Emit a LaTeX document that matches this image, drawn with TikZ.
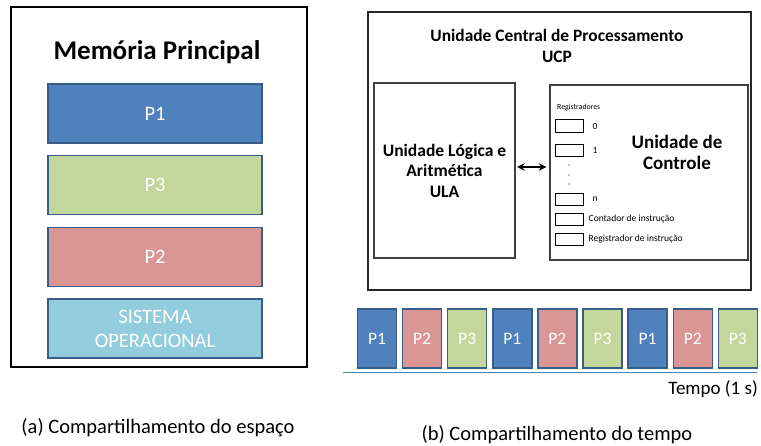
\documentclass[tikz,border=0pt]{standalone}
\usepackage{fontspec}
\setmainfont{Carlito}
\usepackage{xcolor}
\usetikzlibrary{positioning,arrows.meta}

\definecolor{pblue}{HTML}{4F81BD}
\definecolor{pred}{HTML}{D99694}
\definecolor{pgreen}{HTML}{C3D69B}
\definecolor{paqua}{HTML}{93CDDD}
\definecolor{pedge}{HTML}{385D8A}

\newcommand{\fsz}[1]{\fontsize{#1}{#1}\selectfont}

\begin{document}
\begin{tikzpicture}[
    x=1pt, y=-1pt,
    frame/.style={rectangle, draw=black, line width=1.6pt, inner sep=0pt},
    unit/.style={rectangle, draw=black!75, line width=1.3pt, inner sep=0pt, align=center},
    memblock/.style={rectangle, draw=pedge, line width=1.4pt, minimum width=214pt, minimum height=59pt, inner sep=0pt, text=white, align=center, font=\fsz{20.5}},
    slot/.style={rectangle, draw=pedge, line width=1.4pt, minimum width=39pt, minimum height=59pt, inner sep=0pt, text=white, font=\fsz{17.5}},
    reg/.style={rectangle, draw=black, line width=1pt, minimum width=28pt, minimum height=12.5pt, inner sep=0pt},
    reglabel/.style={anchor=west, font=\fsz{9.5}, inner sep=0pt},
    caption/.style={font=\fsz{20.5}},
    arrow/.style={{Stealth[length=7.5pt,width=7.5pt]}-{Stealth[length=7.5pt,width=7.5pt]}, line width=1.8pt, shorten <=1.5pt, shorten >=3pt}
]
\useasboundingbox (0,0) rectangle (761,446);

% === (a) MEMORIA PRINCIPAL ===
\node[frame, minimum width=296pt, minimum height=360pt] (mem) at (159,187) {};
\node[font=\fsz{27}\bfseries] (memtitle) at (157,52) {Memória Principal};
\node[memblock, fill=pblue] (m1) at (155,113.5) {P1};
\node[memblock, fill=pgreen, below=11pt of m1] (m3) {P3};
\node[memblock, fill=pred, below=12pt of m3] (m2) {P2};
\node[memblock, fill=paqua, below=11pt of m2] (mso) {SISTEMA\\[3pt]OPERACIONAL};
\node[caption] (capa) at (158,428) {(a) Compartilhamento do espaço};

% === (b) UCP ===
\node[frame, draw=black!85, line width=1.3pt, minimum width=383pt, minimum height=278pt] (ucp) at (559.5,151) {};
\node[font=\fsz{17.4}\bfseries, align=center] (ucptitle) at (557,46) {Unidade Central de Processamento\\[4.5pt]UCP};
\node[unit, minimum width=141pt, minimum height=175pt, font=\fsz{17.5}\bfseries] (ula) at (444.5,170.5) {Unidade Lógica e\\[3pt]Aritmética\\[3pt]ULA};
\node[unit, minimum width=198pt, minimum height=175pt] (uc) at (649,172.5) {};
\node[font=\fsz{19}\bfseries, align=center] (uctext) at (677,152.5) {Unidade de\\[2pt]Controle};

% registers
\node[reglabel, font=\fsz{7.8}] (regtitle) at (557,107) {Registradores};
\node[reg] (r0) at (569,126) {};
\node[reg] (r1) at (569,150.5) {};
\node[reg] (rn) at (569,199.5) {};
\node[reg] (rpc) at (569,219.5) {};
\node[reg] (rir) at (569,239.5) {};
\node[reglabel, right=9pt of r0] (l0) {0};
\node[reglabel, right=9pt of r1] (l1) {1};
\node[reglabel, right=9pt of rn] (ln) {n};
\node[reglabel, right=5pt of rpc] (lpc) {Contador de instrução};
\node[reglabel, right=5pt of rir] (lir) {Registrador de instrução};
\foreach \y in {165,175,184}
    \fill (569,\y) circle (0.6pt);

% ULA <-> UC
\draw[arrow] ([yshift=3.5pt]ula.east) -- ([yshift=3.5pt]ula.east -| uc.west);

% === (b) TIMELINE ===
\foreach \p/\c [count=\i from 0] in {P1/pblue, P2/pred, P3/pgreen, P1/pblue, P2/pred, P3/pgreen, P1/pblue, P2/pred, P3/pgreen}
    \node[slot, fill=\c] (t\i) at (377+45.1*\i,338.5) {\p};
\coordinate (axstart) at (343,373);
\coordinate (axend) at (757,373);
\draw[pblue, line width=1pt] (axstart) -- (axend);
\node[anchor=east, font=\fsz{19}, inner sep=0pt] (tempo) at (758,389) {Tempo (1 s)};
\node[caption] (capb) at (557,435) {(b) Compartilhamento do tempo};

\end{tikzpicture}
\end{document}
